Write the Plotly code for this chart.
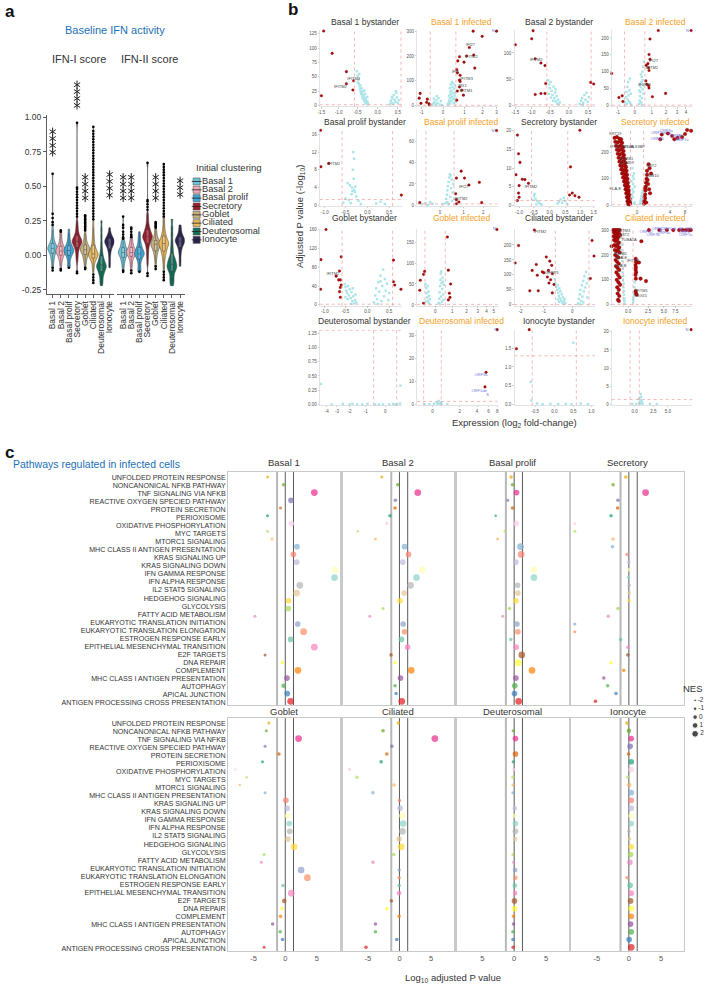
import numpy as np
import plotly.graph_objects as go

W, H = 712, 988
FONT = "Liberation Sans, Arial, Helvetica, sans-serif"
TXT = "#333333"

# ======================= panel a data =======================
cell_types = ["Basal 1", "Basal 2", "Basal prolif", "Secretory", "Goblet", "Ciliated", "Deuterosomal", "Ionocyte"]
cell_colors = ["#6CC4DA", "#F3A8B5", "#3BA6D6", "#9D1C2B", "#C7B27F", "#E8B85C", "#10705A", "#2A2450"]
a_yticks = [-0.25, 0, 0.25, 0.5, 0.75, 1.0]
a_yticktext = ["-0.25", "0.00", "0.25", "0.50", "0.75", "1.00"]

ifn1_body = {
    "Basal 1": [-0.08, -0.06, -0.04, -0.03, -0.02, -0.01, 0.0, 0.01, 0.02, 0.02, 0.03, 0.03, 0.04, 0.04, 0.04, 0.05, 0.05, 0.05, 0.05, 0.06, 0.06, 0.06, 0.07, 0.07, 0.08, 0.08, 0.09, 0.10, 0.11, 0.12, 0.14, 0.16, 0.18, 0.20],
    "Basal 2": [-0.08, -0.06, -0.04, -0.03, -0.02, -0.01, 0.0, 0.0, 0.01, 0.01, 0.02, 0.02, 0.03, 0.03, 0.03, 0.03, 0.04, 0.04, 0.04, 0.05, 0.05, 0.06, 0.06, 0.07, 0.08, 0.09, 0.10, 0.12, 0.14, 0.16],
    "Basal prolif": [-0.07, -0.05, -0.03, -0.02, -0.01, 0.0, 0.01, 0.01, 0.02, 0.02, 0.03, 0.03, 0.03, 0.04, 0.04, 0.04, 0.05, 0.05, 0.06, 0.06, 0.07, 0.08, 0.09, 0.10, 0.12, 0.14, 0.16, 0.19],
    "Secretory": [-0.05, -0.02, 0.0, 0.02, 0.04, 0.05, 0.06, 0.07, 0.08, 0.08, 0.09, 0.09, 0.10, 0.10, 0.10, 0.11, 0.11, 0.12, 0.12, 0.13, 0.14, 0.15, 0.16, 0.18, 0.20, 0.22, 0.25],
    "Goblet": [-0.07, -0.05, -0.03, -0.02, -0.01, 0.0, 0.01, 0.02, 0.02, 0.03, 0.03, 0.04, 0.04, 0.04, 0.05, 0.05, 0.05, 0.06, 0.06, 0.07, 0.08, 0.09, 0.10, 0.12, 0.14, 0.16],
    "Ciliated": [-0.12, -0.09, -0.07, -0.05, -0.04, -0.03, -0.02, -0.02, -0.01, -0.01, 0.0, 0.0, 0.0, 0.01, 0.01, 0.01, 0.02, 0.02, 0.03, 0.03, 0.04, 0.05, 0.06, 0.07, 0.08, 0.10, 0.12, 0.14, 0.17, 0.20, 0.24],
    "Deuterosomal": [-0.22, -0.2, -0.18, -0.16, -0.14, -0.13, -0.12, -0.11, -0.10, -0.09, -0.09, -0.08, -0.08, -0.07, -0.07, -0.06, -0.05, -0.04, -0.03, -0.02, 0.0, 0.02, 0.05, 0.09, 0.14, 0.19, 0.25],
    "Ionocyte": [-0.09, -0.06, -0.03, 0.0, 0.02, 0.04, 0.05, 0.06, 0.07, 0.08, 0.08, 0.09, 0.09, 0.10, 0.10, 0.10, 0.11, 0.11, 0.12, 0.12, 0.13, 0.14, 0.15, 0.17, 0.20],
}
ifn1_out = {
    "Basal 1": [-0.11, -0.09, 0.22, 0.24, 0.27, 0.30, 0.59],
    "Basal 2": [-0.11, -0.10, 0.17, 0.18],
    "Basal prolif": [-0.09],
    "Secretory": [-0.13, -0.12, 0.28, 0.30, 0.32, 0.34, 0.36, 0.38, 0.40, 0.42, 0.44, 0.46, 0.48, 0.49, 0.96],
    "Goblet": [-0.10, -0.09, 0.18, 0.19, 0.20, 0.21, 0.22, 0.23, 0.24, 0.25, 0.26, 0.27, 0.28, 0.29],
    "Ciliated": [-0.20, -0.18, -0.16, -0.14, 0.26, 0.28, 0.30, 0.32, 0.34, 0.36, 0.38, 0.40, 0.42, 0.44, 0.46, 0.48, 0.50, 0.52, 0.54, 0.56, 0.58, 0.60, 0.62, 0.64, 0.66, 0.68, 0.70, 0.72, 0.74, 0.76, 0.78, 0.80, 0.82, 0.84, 0.86, 0.88, 0.90, 0.93],
    "Deuterosomal": [],
    "Ionocyte": [],
}
ifn2_body = {
    "Basal 1": [-0.09, -0.07, -0.05, -0.04, -0.03, -0.02, -0.01, 0.0, 0.0, 0.01, 0.01, 0.02, 0.02, 0.02, 0.03, 0.03, 0.03, 0.04, 0.04, 0.05, 0.06, 0.07, 0.08, 0.09, 0.10, 0.11],
    "Basal 2": [-0.09, -0.07, -0.05, -0.03, -0.02, -0.01, 0.0, 0.0, 0.01, 0.01, 0.02, 0.02, 0.02, 0.03, 0.03, 0.03, 0.04, 0.04, 0.05, 0.06, 0.07, 0.08, 0.09, 0.11, 0.12],
    "Basal prolif": [-0.10, -0.08, -0.06, -0.04, -0.03, -0.02, -0.01, 0.0, 0.0, 0.01, 0.01, 0.01, 0.02, 0.02, 0.03, 0.03, 0.04, 0.05, 0.06, 0.07, 0.08, 0.10, 0.12, 0.14, 0.17],
    "Secretory": [-0.06, -0.02, 0.01, 0.04, 0.06, 0.08, 0.09, 0.10, 0.11, 0.12, 0.12, 0.13, 0.13, 0.14, 0.14, 0.15, 0.15, 0.16, 0.17, 0.18, 0.19, 0.20, 0.22, 0.24, 0.27, 0.30],
    "Goblet": [-0.06, -0.03, -0.01, 0.01, 0.02, 0.03, 0.04, 0.05, 0.06, 0.06, 0.07, 0.07, 0.08, 0.08, 0.08, 0.09, 0.09, 0.10, 0.10, 0.11, 0.12, 0.13, 0.15, 0.17, 0.19],
    "Ciliated": [-0.10, -0.06, -0.03, -0.01, 0.01, 0.02, 0.03, 0.04, 0.05, 0.06, 0.07, 0.07, 0.08, 0.08, 0.09, 0.09, 0.10, 0.10, 0.11, 0.12, 0.13, 0.14, 0.15, 0.17, 0.19, 0.22, 0.26, 0.30],
    "Deuterosomal": [-0.22, -0.2, -0.18, -0.16, -0.14, -0.12, -0.11, -0.10, -0.09, -0.08, -0.08, -0.07, -0.06, -0.05, -0.04, -0.03, -0.02, 0.0, 0.03, 0.06, 0.10, 0.15, 0.20, 0.26],
    "Ionocyte": [-0.08, -0.05, -0.02, 0.01, 0.03, 0.05, 0.06, 0.07, 0.08, 0.09, 0.09, 0.10, 0.10, 0.11, 0.11, 0.11, 0.12, 0.12, 0.13, 0.14, 0.15, 0.16, 0.18, 0.20, 0.22],
}
ifn2_out = {
    "Basal 1": [-0.12, -0.11, 0.12, 0.13, 0.15, 0.17, 0.20, 0.22, 0.28],
    "Basal 2": [-0.13, -0.11, 0.13, 0.14, 0.15, 0.17, 0.19, 0.20],
    "Basal prolif": [-0.12],
    "Secretory": [-0.15, -0.13, 0.33, 0.35, 0.37, 0.39, 0.40, 0.67],
    "Goblet": [-0.10, -0.08, 0.20, 0.21, 0.22, 0.23, 0.24],
    "Ciliated": [-0.18, -0.16, -0.14, -0.12, 0.28, 0.30, 0.32, 0.34, 0.36, 0.38, 0.40, 0.42, 0.44, 0.46, 0.48, 0.50, 0.52, 0.54, 0.56, 0.58, 0.60, 0.62, 0.64, 0.66],
    "Deuterosomal": [],
    "Ionocyte": [],
}
# significance marks: (number of stars, centre value on the score axis)
ifn1_stars = {"Basal 1": (4, 0.82), "Secretory": (4, 1.16), "Goblet": (4, 0.49), "Ionocyte": (4, 0.51)}
ifn2_stars = {"Basal 1": (4, 0.49), "Basal 2": (4, 0.49), "Goblet": (4, 0.49), "Ionocyte": (3, 0.49)}

# ======================= panel b data =======================
volcano_titles = ["Basal 1 bystander", "Basal 1 infected", "Basal 2 bystander", "Basal 2 infected",
                  "Basal prolif bystander", "Basal prolif infected", "Secretory bystander", "Secretory infected",
                  "Goblet bystander", "Goblet infected", "Ciliated bystander", "Ciliated infected",
                  "Deuterosomal bystander", "Deuterosomal infected", "Ionocyte bystander", "Ionocyte infected"]

cyan_pts = {
    "Basal 1 bystander": [(-0.52, 60), (-0.50, 52), (-0.48, 45), (-0.47, 38), (-0.45, 33), (-0.44, 28), (-0.42, 24), (-0.41, 20), (-0.40, 30), (-0.38, 16), (-0.37, 12), (-0.36, 25), (-0.35, 18), (-0.34, 9), (-0.33, 14), (-0.32, 6), (-0.31, 20), (-0.30, 11), (-0.29, 4), (-0.28, 8), (-0.27, 3), (-0.26, 15), (-0.25, 6), (-0.50, 40), (-0.46, 55), (-0.43, 35), (-0.39, 22), (-0.33, 26), (-0.24, 2), (0.30, 2), (0.32, 8), (0.34, 5), (0.36, 12), (0.38, 3), (0.40, 18), (0.42, 10), (0.44, 6), (0.46, 22), (0.48, 14), (0.50, 4), (0.52, 9), (0.35, 15), (0.45, 25)],
    "Basal 1 infected": [(0.2, 5), (0.25, 12), (0.28, 20), (0.3, 30), (0.32, 8), (0.35, 45), (0.36, 18), (0.38, 60), (0.4, 35), (0.42, 75), (0.44, 25), (0.45, 90), (0.47, 50), (0.48, 10), (0.5, 68), (0.52, 40), (0.54, 82), (0.55, 15), (0.56, 55), (0.3, 70), (0.34, 85), (0.4, 95), (0.27, 40), (0.33, 55), (0.5, 28), (-0.5, 3), (-0.45, 8), (-0.4, 15), (-0.35, 5), (-0.3, 22), (-0.25, 10), (-0.2, 30), (-0.15, 4), (-0.1, 18), (-0.05, 2), (-0.42, 28), (-0.28, 38)],
    "Basal 2 bystander": [(-0.55, 48), (-0.52, 40), (-0.5, 33), (-0.48, 45), (-0.45, 28), (-0.43, 20), (-0.4, 36), (-0.38, 14), (-0.36, 25), (-0.34, 8), (-0.32, 18), (-0.3, 4), (-0.28, 11), (-0.26, 2), (-0.24, 6), (-0.47, 15), (-0.41, 9), (-0.35, 31), (-0.53, 22), (0.28, 3), (0.31, 9), (0.34, 14), (0.37, 5), (0.40, 20), (0.43, 11), (0.46, 24), (0.49, 7), (0.52, 16), (0.36, 1)],
    "Basal 2 infected": [(0.25, 5), (0.28, 15), (0.3, 28), (0.32, 40), (0.34, 55), (0.36, 10), (0.38, 70), (0.4, 85), (0.42, 22), (0.44, 100), (0.46, 48), (0.48, 115), (0.5, 35), (0.52, 130), (0.3, 62), (0.35, 92), (0.45, 75), (0.27, 45), (0.4, 3), (0.5, 60), (-0.55, 10), (-0.5, 25), (-0.47, 40), (-0.45, 5), (-0.42, 55), (-0.4, 18), (-0.37, 70), (-0.35, 30), (-0.32, 12), (-0.3, 45), (-0.28, 80), (-0.25, 8), (-0.22, 35), (-0.2, 2)],
    "Basal prolif bystander": [(-0.32, 12), (-0.3, 10.5), (-0.33, 8), (-0.31, 6), (-0.45, 5), (-0.4, 4.5), (-0.35, 4), (-0.3, 3.5), (-0.28, 3), (-0.36, 2.5), (-0.25, 2), (-0.5, 1.5), (-0.2, 1), (-0.42, 1.2), (-0.38, 0.5), (-0.15, 0.3), (0.2, 0.4), (0.3, 0.8), (0.4, 0.3), (-0.55, 0.6), (-0.27, 4.2), (-0.34, 3.2)],
    "Basal prolif infected": [(0.22, 2), (0.25, 6), (0.28, 10), (0.3, 14), (0.32, 18), (0.35, 22), (0.38, 26), (0.4, 29), (0.42, 8), (0.45, 16), (0.48, 24), (0.5, 4), (0.52, 12), (0.55, 20), (0.3, 3), (0.36, 1), (0.44, 28), (0.6, 6), (-0.75, 1), (-0.6, 2), (-0.5, 0.5), (-0.4, 3), (-0.3, 1.5), (0.1, 0.8)],
    "Secretory bystander": [(-0.5, 2.5), (-0.45, 1.8), (-0.4, 1.2), (-0.35, 0.8), (-0.3, 0.5), (-0.42, 0.3), (-0.48, 3.1), (-0.55, 1.5), (0.25, 0.5), (0.3, 1), (0.35, 1.6), (0.4, 0.7), (0.45, 2), (0.5, 1.2), (0.55, 0.4), (-0.25, 0.2)],
    "Secretory infected": [(-0.5, 20), (-0.45, 40), (-0.4, 60), (-0.35, 80), (-0.3, 100), (-0.28, 120), (-0.42, 140), (-0.38, 30), (-0.32, 50), (-0.25, 10), (-0.2, 70), (-0.48, 90), (-0.36, 110), (-0.22, 5), (0.25, 5), (0.3, 15), (0.35, 25), (0.4, 35), (0.45, 45), (0.5, 55), (0.32, 8), (0.42, 20)],
    "Goblet bystander": [(-0.52, 44), (-0.5, 38), (-0.48, 30), (-0.46, 25), (-0.44, 40), (-0.42, 20), (-0.4, 33), (-0.38, 14), (-0.36, 27), (-0.34, 8), (-0.32, 18), (-0.3, 3), (-0.28, 10), (-0.27, 22), (-0.25, 5), (-0.45, 12), (-0.37, 2), (-0.5, 16), (-0.33, 35), (0.15, 5), (0.18, 20), (0.2, 35), (0.22, 12), (0.25, 48), (0.27, 28), (0.3, 62), (0.32, 8), (0.34, 40), (0.36, 75), (0.38, 18), (0.4, 55), (0.42, 30), (0.45, 45), (0.48, 10), (0.5, 25), (0.3, 50), (0.24, 2)],
    "Goblet infected": [(-0.55, 50), (-0.5, 40), (-0.48, 28), (-0.45, 18), (-0.43, 45), (-0.4, 10), (-0.38, 32), (-0.36, 5), (-0.34, 22), (-0.32, 2), (-0.3, 14), (-0.52, 8), (0.2, 5), (0.23, 15), (0.25, 30), (0.28, 45), (0.3, 60), (0.32, 75), (0.34, 20), (0.36, 52), (0.38, 8), (0.4, 38), (0.42, 65), (0.45, 25), (0.48, 12), (0.5, 48), (0.27, 2), (0.35, 80), (0.44, 55)],
    "Ciliated bystander": [(-0.6, 85), (-0.58, 72), (-0.55, 60), (-0.52, 50), (-0.5, 65), (-0.48, 40), (-0.46, 30), (-0.44, 55), (-0.42, 22), (-0.4, 45), (-0.38, 15), (-0.36, 35), (-0.34, 8), (-0.32, 25), (-0.3, 3), (-0.28, 12), (-0.26, 20), (-0.24, 5), (-0.5, 18), (-0.45, 10), (0.2, 5), (0.23, 20), (0.26, 35), (0.28, 50), (0.3, 12), (0.33, 65), (0.35, 28), (0.38, 80), (0.4, 45), (0.42, 95), (0.45, 58), (0.48, 110), (0.5, 72), (0.52, 25), (0.55, 88), (0.25, 2), (0.38, 8)],
    "Ciliated infected": [(-0.85, 250), (-0.8, 220), (-0.75, 190), (-0.7, 160), (-0.65, 130), (-0.6, 100), (-0.55, 70), (-0.5, 40), (-0.45, 15), (-0.82, 270), (-0.78, 240), (-0.72, 205), (-0.68, 175), (-0.62, 145), (-0.58, 115), (-0.52, 85), (-0.48, 55), (-0.42, 25), (-0.4, 5), (0.6, 10), (0.65, 30), (0.7, 50), (0.75, 70), (0.8, 90), (0.62, 20), (0.72, 40)],
    "Deuterosomal bystander": [(-4.7, 0.36), (0.78, 0.33), (-2.0, 0.0), (-1.8, 0.01), (-1.5, 0.0), (-1.2, 0.0), (-0.9, 0.01), (-0.5, 0.0), (-0.3, 0.0), (0.2, 0.0), (0.4, 0.01), (0.6, 0.0), (0.75, 0.02), (-3.5, 0.0), (-2.5, 0.01), (-0.1, 0.0), (0.5, 0.0)],
    "Deuterosomal infected": [(0.3, 0.7), (0.4, 1.5), (0.5, 0.4), (0.35, 0.2), (0.55, 1.0), (-0.2, 0.1), (0.1, 0.3), (0.6, 0.1), (-0.5, 0.05), (1.0, 0.1)],
    "Ionocyte bystander": [(0.5, 1.65), (-0.62, 0.6), (-0.45, 0.02), (-0.3, 0.0), (-0.1, 0.01), (0.1, 0.0), (0.3, 0.01), (0.45, 0.0), (0.7, 0.02), (0.9, 0.0), (-0.6, 0.1)],
    "Ionocyte infected": [(0.6, 0.5), (0.7, 1.2), (0.8, 2.0), (0.75, 2.8), (0.65, 0.2), (0.9, 0.8), (1.0, 0.1), (0.5, 1.5), (0.85, 0.4), (-0.3, 0.1), (0.2, 0.05), (2.0, 0.1), (3.0, 0.05)],
}

red_pts = {
    "Basal 1 bystander": [(-1.43, 130), (-1.18, 91), (-0.79, 59), (-0.79, 38), (-0.6, 43), (-0.62, 27), (-1.5, 17)],
    "Basal 1 infected": [(1.45, 300), (1.98, 279), (1.24, 234), (0.67, 180), (0.75, 197), (0.97, 175), (1.48, 204), (1.1, 200), (1.54, 151), (0.62, 145), (0.65, 132), (0.78, 122), (0.75, 103), (0.78, 97), (0.75, 75), (0.86, 62), (0.65, 59), (0.94, 42), (0.62, 22), (-1.07, 49), (-1.12, 30), (-0.72, 26), (-0.64, 7), (-0.75, 13), (-1.03, 9), (-0.62, 3), (3.0, 300)],
    "Basal 2 bystander": [(-1.5, 115.6), (-0.96, 142.5), (-1.0, 127), (-0.9, 89), (-0.74, 81), (-0.63, 76), (-0.9, 21), (-0.74, 23), (-0.63, 23), (-0.61, 42), (0.57, 44), (0.65, 41)],
    "Basal 2 infected": [(-1.39, 95), (-0.92, 24), (-0.72, 29), (-0.68, 12), (1.43, 222), (0.89, 197), (0.83, 151), (0.89, 137), (0.76, 124), (0.66, 119), (0.8, 112), (0.83, 104), (0.64, 73), (0.7, 63), (0.8, 59), (0.83, 52), (1.04, 26), (1.97, 36), (4.7, 222)],
    "Basal prolif bystander": [(-1.11, 16.9), (-0.9, 9.45), (-1.1, 8.7), (0.79, 2.3)],
    "Basal prolif infected": [(0.89, 32), (0.68, 25.5), (1.04, 25.5), (1.25, 19), (1.78, 21.5), (0.65, 10.8), (0.68, 5.2), (0.79, 3.1), (1.91, 2.5), (-0.85, 2.5), (0.68, 1.5), (2.85, 70)],
    "Secretory bystander": [(-1.06, 18.8), (0.99, 20.1), (-1.02, 13.8), (-0.97, 11.5), (-1.11, 8.2), (-0.89, 7), (-0.8, 6.9), (-1.0, 5.3), (-0.68, 5.9), (0.67, 10.3), (0.64, 2.8), (0.82, 2.6), (0.96, 2.2), (0.73, 3.3), (-1.02, 3.3), (-1.0, 2.2), (-1.06, 1.3)],
    "Secretory infected": [(-2.3, 255), (-2.0, 258), (-1.7, 252), (-1.5, 250), (-2.2, 240), (-1.9, 238), (-1.6, 242), (-1.4, 236), (-2.1, 225), (-1.8, 222), (-1.55, 226), (-1.3, 220), (-2.0, 210), (-1.75, 207), (-1.5, 212), (-1.25, 205), (-1.9, 195), (-1.65, 192), (-1.4, 197), (-1.2, 190), (-1.8, 180), (-1.55, 177), (-1.3, 182), (-1.12, 175), (-1.7, 165), (-1.45, 162), (-1.25, 167), (-1.05, 160), (-1.6, 150), (-1.4, 147), (-1.18, 152), (-1.0, 145), (-1.5, 135), (-1.3, 132), (-1.1, 137), (-0.95, 130), (-1.4, 120), (-1.22, 117), (-1.05, 122), (-0.9, 115), (-1.3, 105), (-1.15, 102), (-1.0, 107), (-0.86, 100), (-1.2, 90), (-1.08, 87), (-0.95, 92), (-0.82, 85), (-1.12, 75), (-1.0, 72), (-0.9, 77), (-0.78, 70), (-1.05, 60), (-0.94, 57), (-0.85, 62), (-0.74, 55), (-0.98, 45), (-0.88, 42), (-0.8, 47), (-0.7, 40), (-0.92, 30), (-0.82, 27), (-0.75, 32), (-0.66, 25), (-0.86, 15), (-0.77, 12), (-0.7, 17), (-0.62, 10), (-0.8, 4), (-0.7, 2), (-0.62, 5), (0.62, 5), (0.65, 15), (0.7, 25), (0.72, 40), (0.75, 55), (0.78, 70), (0.8, 85), (0.85, 100), (0.9, 115), (0.95, 95), (1.0, 80), (1.1, 60), (1.2, 45), (0.68, 30), (0.82, 10), (0.9, 130), (1.05, 155), (1.15, 140), (1.3, 120), (0.7, 65), (2.6, 268), (3.6, 272), (4.4, 262), (5.7, 255), (7.0, 258), (8.0, 270), (4.9, 250), (2.4, 250), (8.8, 285), (10.5, 282)],
    "Goblet bystander": [(-0.97, 160), (-1.1, 96), (-1.11, 33), (-0.6, 102), (-0.64, 72), (-0.72, 61), (-0.62, 53), (-0.66, 53), (-0.6, 42), (-0.62, 37), (-0.62, 16), (-0.64, 28), (0.6, 95), (0.6, 49), (0.63, 42), (0.78, 33)],
    "Goblet infected": [(-0.86, 59), (-0.66, 73), (-0.6, 80), (-0.89, 35), (-0.66, 4), (0.7, 162), (0.76, 83), (0.9, 50), (0.82, 28), (0.86, 18), (0.76, 12), (5.5, 180)],
    "Ciliated bystander": [(-1.38, 250), (-2.09, 198), (-2.26, 140), (-1.3, 135), (-1.47, 115), (-1.26, 99), (-1.57, 47), (-1.22, 47), (-0.91, 160), (-0.78, 146), (-0.71, 132), (-0.83, 115), (-1.0, 107), (-0.69, 104), (-0.87, 93), (-0.75, 84), (-0.81, 73), (-0.63, 68), (-0.69, 40), (-1.06, 110), (0.69, 215), (0.76, 163), (0.63, 88)],
    "Ciliated infected": [(-1.8, 300), (-1.6, 300), (-1.4, 300), (-1.2, 300), (-1.0, 300), (-1.7, 290), (-1.5, 285), (-1.3, 292), (-1.1, 288), (-1.75, 275), (-1.55, 270), (-1.35, 278), (-1.15, 272), (-0.95, 280), (-1.7, 260), (-1.5, 255), (-1.3, 262), (-1.1, 250), (-1.65, 240), (-1.45, 235), (-1.25, 242), (-1.05, 230), (-1.6, 220), (-1.4, 215), (-1.2, 222), (-1.0, 210), (-1.55, 200), (-1.35, 195), (-1.15, 190), (-1.5, 180), (-1.3, 172), (-1.1, 165), (-1.45, 155), (-1.25, 148), (-1.05, 140), (-1.4, 130), (-1.2, 120), (-1.0, 110), (-1.35, 100), (-1.15, 90), (-0.95, 80), (-1.3, 70), (-1.1, 60), (-1.25, 45), (-1.05, 35), (-1.2, 20), (-2.0, 235), (-1.1, 15), (0.9, 185), (0.95, 175), (1.0, 170), (0.88, 160), (0.92, 150), (0.9, 140), (0.95, 130), (0.88, 120), (1.3, 170), (1.6, 255), (0.92, 105), (0.9, 55), (0.95, 45), (1.0, 40), (2.2, 95), (1.5, 105), (2.6, 300), (4.2, 300), (5.6, 300), (7.0, 300), (8.5, 300), (9.5, 300), (10.5, 300), (11.5, 300), (12.3, 300)],
    "Deuterosomal bystander": [],
    "Deuterosomal infected": [(5.5, 13.9), (5.3, 7.6), (8.0, 32.4)],
    "Ionocyte bystander": [(-0.66, 2.0), (-1.02, 1.49)],
    "Ionocyte infected": [(11.5, 20.6)],
}

gene_labels = {
    "Basal 1 bystander": [("IFITM3", -0.6, 46), ("IFITM2", -0.95, 33)],
    "Basal 1 infected": [("IFI27", 1.3, 243), ("IFITM2", 1.35, 195), ("IFI6", 0.55, 134), ("IFITM3", 1.1, 109), ("MX1", 0.9, 79), ("IFITM1", 1.08, 57)],
    "Basal 2 bystander": [("IFITM2", -0.87, 86)],
    "Basal 2 infected": [("IFI27", 1.1, 133), ("IFITM2", 1.0, 112), ("IFITM3", 0.56, 60)],
    "Basal prolif bystander": [("IFITM2", -0.78, 9.3)],
    "Basal prolif infected": [("IFI27", 1.0, 17.5), ("IFITM2", 0.89, 6)],
    "Secretory bystander": [("IFITM2", -0.6, 4.9)],
    "Secretory infected": [("KRT19", -2.2, 268), ("IFI27", -2.3, 222), ("RPL7A", -0.85, 222), ("LGALS3BP", -0.2, 222), ("PSMB1", -0.95, 175), ("SAMD9", -0.9, 158), ("BST2", 1.35, 150), ("CMB10", 1.4, 112), ("HLA-E", -2.2, 60)],
    "Goblet bystander": [("IFITM2", -0.8, 66)],
    "Goblet infected": [],
    "Ciliated bystander": [("IFITM2", -1.15, 242), ("IGFBP3", -0.72, 108)],
    "Ciliated infected": [("IFITM3", -0.5, 295), ("BST2", -0.45, 282), ("TUBA1A", 0.1, 262), ("HSPB1", -0.9, 205), ("HLA-E", -0.8, 188), ("IFITM1", 0.6, 175), ("HLA-B", -0.9, 155), ("IFITM1", 1.6, 55), ("ISG15", 1.6, 35)],
    "Deuterosomal bystander": [],
    "Deuterosomal infected": [],
    "Ionocyte bystander": [],
    "Ionocyte infected": [],
}

viral_labels = {
    "Basal 1 infected": [("N", 2.75, 300)],
    "Basal 2 infected": [("N", 4.2, 222)],
    "Basal prolif infected": [("N", 2.6, 70)],
    "Secretory infected": [("ORF1ab", 2.2, 275), ("ORF3a", 3.3, 280), ("E", 4.0, 268), ("ORF6", 5.2, 262), ("M", 6.4, 262), ("S", 5.8, 250), ("ORF7a", 7.0, 248), ("ORF10", 2.0, 252), ("ORF8", 8.0, 290), ("N", 9.5, 290)],
    "Goblet infected": [("N", 5.1, 180)],
    "Ciliated infected": [("ORF10", 2.2, 292), ("ORF6", 3.8, 304), ("ORF1ab", 6.0, 304), ("ORF3a", 5.0, 288), ("E", 4.5, 297), ("ORF7b", 3.2, 282), ("M", 9.0, 304), ("ORF8", 10.0, 292), ("ORF7a", 10.5, 282), ("N", 11.2, 304), ("S", 12.2, 304)],
    "Deuterosomal infected": [("N", 7.6, 32.4), ("ORF3a", 4.6, 12.6), ("ORF1ab", 4.3, 6.0), ("S", 5.8, 4.2)],
    "Ionocyte infected": [("N", 10.0, 20.6)],
}

# ======================= panel c data =======================
pathways = ["UNFOLDED PROTEIN RESPONSE", "NONCANONICAL NFKB PATHWAY", "TNF SIGNALING VIA NFKB", "REACTIVE OXYGEN SPECIED PATHWAY",
            "PROTEIN SECRETION", "PERIOXISOME", "OXIDATIVE PHOSPHORYLATION", "MYC TARGETS", "MTORC1 SIGNALING",
            "MHC CLASS II ANTIGEN PRESENTATION", "KRAS SIGNALING UP", "KRAS SIGNALING DOWN", "IFN GAMMA RESPONSE",
            "IFN ALPHA RESPONSE", "IL2 STAT5 SIGNALING", "HEDGEHOG SIGNALING", "GLYCOLYSIS", "FATTY ACID METABOLISM",
            "EUKARYOTIC TRANSLATION INITIATION", "EUKARYOTIC TRANSLATION ELONGATION", "ESTROGEN RESPONSE EARLY",
            "EPITHELIAL MESENCHYMAL TRANSITION", "E2F TARGETS", "DNA REPAIR", "COMPLEMENT", "MHC CLASS I ANTIGEN PRESENTATION",
            "AUTOPHAGY", "APICAL JUNCTION", "ANTIGEN PROCESSING CROSS PRESENTATION"]
dot_colors = ["#E6AB02", "#66A61E", "#E7298A", "#7570B3", "#D95F02", "#1B9E77", "#FCCDE5", "#B3DE69", "#FDB462", "#80B1D3",
              "#FB8072", "#BEBADA", "#FFFFB3", "#8DD3C7", "#B3B3B3", "#E5C494", "#FFD92F", "#A6D854", "#E78AC3", "#8DA0CB",
              "#FC8D62", "#66C2A5", "#F781BF", "#A65628", "#FFFF33", "#FF7F00", "#984EA3", "#4DAF4A", "#377EB8", "#E41A1C"]
facets = ["Basal 1", "Basal 2", "Basal prolif", "Secretory", "Goblet", "Ciliated", "Deuterosomal", "Ionocyte"]
gsea_x = {
    "Basal 1": [-2.8, -0.27, 4.6, 0.9, -0.75, -2.8, 0.96, -2.8, -2.1, 1.86, 1.28, 1.8, 7.9, 7.8, 2.3, 1.8, 0.53, 0.48, -4.8, 1.97, 2.9, 0.85, 4.6, -3.2, -0.43, 2.0, 0.27, -0.27, 0.32, 0.85],
    "Basal 2": [-2.8, -0.27, 2.9, -0.64, -0.7, -1.5, -2.0, -6.6, -3.8, 0.8, 1.44, 0.53, 3.6, 2.7, 1.76, 0.74, 0.1, -2.6, -4.7, 0.58, 0.8, 0.32, 1.28, -1.33, -0.7, 1.86, 0.16, -0.7, -0.53, 0.37],
    "Basal prolif": [-0.48, -0.27, 0.37, -1.0, -0.27, -2.9, 0.32, -1.44, -2.6, 1.0, 1.1, 0.27, 3.1, 3.1, 0.53, 0.58, 0.27, -0.74, -1.8, 0.43, 0.58, -0.53, 0.32, 1.2, 0.64, 2.8, 0.27, 0.1, 0.05, 0.7],
    "Secretory": [-0.48, -2.45, 2.6, -1.7, -1.75, -2.77, -8.4, -8.4, -2.45, -2.55, -0.27, 0.0, -0.05, -0.05, 0.05, 0.05, 0.05, -1.7, -3.2, -8.4, -8.4, -1.28, -0.16, -0.16, -2.8, -0.8, -3.9, -3.3, -2.0, -5.2],
    "Goblet": [-2.6, -3.0, 2.1, -3.2, -1.0, -3.6, -7.9, -6.1, -7.2, -3.2, 0.1, 0.3, 0.37, 0.64, 0.7, 0.43, 1.4, -3.35, -3.8, 2.5, 3.5, -0.37, 0.96, -0.16, -0.53, -0.74, -2.0, -0.8, -0.43, -3.35],
    "Ciliated": [-0.16, -2.6, 5.6, -1.2, -2.0, -2.9, -7.9, -6.75, -0.85, -4.2, 0.0, 0.1, 0.48, 0.58, 0.48, -0.05, 0.27, -0.9, -4.2, -0.05, -0.05, -0.05, -0.05, -1.28, -2.0, -0.05, -3.8, -3.8, -0.43, -5.3],
    "Deuterosomal": [None, -0.16, 0.2, None, 0.2, -0.16, -0.05, -0.2, -0.2, -0.2, None, 0.1, 0.05, 0.2, 0.2, 0.16, None, -0.2, -0.1, 0.16, 0.2, 0.1, 0.16, 0.05, 0.05, -0.1, -0.1, -0.2, -0.2, -0.16],
    "Ionocyte": [-0.3, 0.0, 0.37, 0.2, -0.05, 0.37, 0.37, -0.16, 0.05, 0.37, 0.37, 0.37, 0.37, 0.37, 0.0, 0.1, 0.37, 0.27, 0.16, None, -0.3, 0.2, 0.37, 0.27, 0.37, 0.37, 0.27, 0.37, 0.05, 0.37],
}
gsea_nes = {
    "Basal 1": [-1.5, -1, 2, 1, -1.5, -1.5, 1, -1.5, -1.5, 1, 1, 1, 2, 2, 2, 2, 1, 1, -1.5, 1, 2, 1, 2, -1.5, -1, 2, 1, 0, 1, 2],
    "Basal 2": [-1.5, -1, 2, -1, -1, -1, -1, -2, -1.5, 1, 1, 1, 2, 2, 2, 1, 1, -1.5, -1.5, 1, 1, 1, 1, -1, -1, 2, 1, -1, -1, 2],
    "Basal prolif": [-1, -1, 1, -1.5, -1, -2, 1, -1.5, -1.5, 2, 2, 1, 2, 2, 1, 1, 1, -1, -1.5, 1, 1, -1, 1, 2, 2, 2, 1, 1, 1, 2],
    "Secretory": [-1, -1, 2, -1, -1, -1, -1.5, -1.5, -1, -1, -1, -1, -1, -1, -1, -1, -1, -1, -1, -1.5, -1.5, -1, -1, -1, -1, -1, -1, -1, -1, -1],
    "Goblet": [-1.5, -1.5, 2, -1.5, -1, -1.5, -2, -2, -2, -1.5, 1, 1, 1, 1, 1, 1, 2, -1.5, -1.5, 2, 2, -1, 2, 0, -1, -1, -1, -1, -1, -1.5],
    "Ciliated": [-1, -1, 2, -1, -1, -1, -1, -1, -1, -1, -1, 1, 2, 2, 2, 1, 2, -1, -1, -1, -1, -1, 0, -1, -1, -1, -1, -1, -1, -1],
    "Deuterosomal": [None, -1.5, 1, None, 1, -1.5, -1, -1, -1.5, -1.5, None, 0, 0, 1, 1, 0, None, -1.5, -1.5, 0, 0, 0, 0, 1, 1, -1, -1, -1, -1, -1],
    "Ionocyte": [-1, 0, 1, 1, -1, 1, 1, -1, 0, 1, 1, 1, 1, 1, -1, -1, 1, 1, 1, None, -1, 1, 1, 1, 1, 1, 1, 1, 1, 2],
}
nes_legend = [-2, -1, 0, 1, 2]

# ======================= layout helpers =======================
def fx(p):
    return p / W


def fy(p):
    return 1 - p / H


def ptr(xs, s=1.0):
    return list(np.arcsinh(np.asarray(xs, dtype=float) / (2.0 * s)))


fig = go.Figure()
L = dict(width=W, height=H, margin=dict(l=0, r=0, t=0, b=0), paper_bgcolor="white",
         plot_bgcolor="rgba(0,0,0,0)", showlegend=False, hovermode=False,
         font=dict(family=FONT, color=TXT), violinmode="overlay")
shapes, ann = [], []


def text_ann(x, y, text, size, color=TXT, xanchor="center", yanchor="middle", **kw):
    ann.append(dict(x=fx(x), y=fy(y), xref="paper", yref="paper", text=text, showarrow=False,
                    font=dict(size=size, color=color, family=FONT), xanchor=xanchor, yanchor=yanchor, **kw))


# ======================= panel a =======================
A_TOP, A_BOT, A_STAR_TOP = 113, 293, 60
A_YR = [-0.279, 1.019]
A_UNIT = (A_YR[1] - A_YR[0]) / (A_BOT - A_TOP)        # score units per pixel
STAR_STEP = 6.9 * A_UNIT

axis_common = dict(showgrid=False, zeroline=False)
L["yaxis"] = dict(domain=[fy(A_BOT), fy(A_TOP)], range=A_YR, anchor="x", tickvals=a_yticks, ticktext=a_yticktext,
                  showline=True, linecolor="#333", linewidth=0.8, ticks="outside", ticklen=3, tickwidth=0.8,
                  tickcolor="#333", tickfont=dict(size=8.5, color=TXT), **axis_common)
# same score scale, taller invisible axis so the significance stars above 1.0 stay visible
L["yaxis29"] = dict(domain=[fy(A_BOT), fy(A_STAR_TOP)], range=[A_YR[0], A_YR[0] + (A_BOT - A_STAR_TOP) * A_UNIT],
                    visible=False, anchor="x", fixedrange=True, **axis_common)
for key, (x0, x1) in (("xaxis", (44, 112)), ("xaxis2", (115, 183))):
    L[key] = dict(domain=[fx(x0), fx(x1)], anchor="y", type="category", categoryorder="array",
                  categoryarray=cell_types, tickmode="array", tickvals=cell_types, ticktext=cell_types,
                  range=[-0.73, 7.57], tickangle=-90, showline=True, linecolor="#333",
                  linewidth=0.8, ticks="outside", ticklen=3, tickwidth=0.8, tickcolor="#333",
                  tickfont=dict(size=8.5, color=TXT), **axis_common)

for xa, body, outl, stars in (("x", ifn1_body, ifn1_out, ifn1_stars), ("x2", ifn2_body, ifn2_out, ifn2_stars)):
    for ct, col in zip(cell_types, cell_colors):
        out = outl[ct]
        vals = body[ct] + ([min(out), max(out)] if out else [])
        fig.add_trace(go.Violin(x=[ct] * len(vals), y=vals, xaxis=xa, yaxis="y", fillcolor=col,
                                line=dict(color="#3a3a3a", width=0.5), width=1.2, scalemode="width",
                                spanmode="hard", bandwidth=0.02, points=False,
                                box=dict(visible=True, width=0.28, fillcolor="rgba(255,255,255,0.25)",
                                         line=dict(color="#333", width=0.45)),
                                meanline=dict(visible=False), opacity=1, showlegend=False, hoverinfo="skip"))
        if out:
            fig.add_trace(go.Scatter(x=[ct] * len(out), y=out, xaxis=xa, yaxis="y", mode="markers",
                                     marker=dict(color="black", size=2.6), cliponaxis=False, hoverinfo="skip"))
    sx, sy = [], []
    for ct, (m, v) in stars.items():
        for i in range(m):
            sx.append(ct)
            sy.append(v + ((m - 1) / 2.0 - i) * STAR_STEP)
    for sym in ("y-up-open", "y-down-open"):
        fig.add_trace(go.Scatter(x=sx, y=sy, xaxis=xa, yaxis="y29", mode="markers", cliponaxis=False,
                                 marker=dict(symbol=sym, size=5.2, color="#222",
                                             line=dict(color="#222", width=1.0)), hoverinfo="skip"))

# legend for panel a (hidden axes)
L["xaxis27"] = dict(domain=[fx(192), fx(262)], range=[0, 70], visible=False, anchor="y27", fixedrange=True)
L["yaxis27"] = dict(domain=[fy(243), fy(176)], range=[7.5, -0.5], visible=False, anchor="x27", fixedrange=True)
fig.add_trace(go.Scatter(x=[3] * len(cell_types), y=list(range(len(cell_types))), xaxis="x27", yaxis="y27",
                         mode="markers+text", text=cell_types, textposition="middle right",
                         textfont=dict(size=9.3, color=TXT, family=FONT),
                         marker=dict(symbol="square", size=7, color=cell_colors, line=dict(color="#555", width=0.6)),
                         cliponaxis=False))
fig.add_trace(go.Scatter(x=[3] * len(cell_types), y=list(range(len(cell_types))), xaxis="x27", yaxis="y27",
                         mode="markers", marker=dict(symbol="line-ew", size=7, line=dict(color="#222", width=0.8)),
                         cliponaxis=False))
text_ann(192, 166, "Initial clustering", 9.5, xanchor="left")
text_ann(0, 10, "<b>a</b>", 17, color="#111", xanchor="left")
text_ann(113, 28, "Baseline IFN activity", 11, color="#2270B5")
text_ann(77, 57, "IFN-I score", 11)
text_ann(148, 57, "IFN-II score", 11)

# ======================= panel b =======================
VCOL = [(319, 402), (417, 498), (515, 596), (613, 694)]
VROW = [(28, 105), (128, 205), (228, 305), (329, 405)]
VTITLE_Y = [20, 120, 217, 320]
vol_x_range = [[-1.55, 0.61], [-1.23, 3.08], [-1.53, 0.68], [-1.39, 4.85], [-1.13, 0.81], [-0.97, 2.92],
               [-1.17, 1.55], [-2.7, 11], [-1.13, 0.81], [-1.06, 5.6], [-2.3, 0.79], [-2.0, 12.8],
               [-4.85, 0.87], [-1.04, 8.1], [-1.08, 1.1], [-3.17, 11.9]]
vol_sigma = [1, 1, 1, 1, 1, 1, 1, 1, 1, 1, 1, 2, 1, 1, 1, 2]
vol_y_range = [[-2, 132], [-4, 305], [-2, 144], [-3, 224], [-0.2, 17.1], [-0.8, 71], [-0.2, 20.3], [-4, 287],
               [-2, 161], [-2, 181], [-3, 253], [-4, 304], [-0.015, 1.31], [-0.4, 32.4], [-0.03, 2.0], [-0.3, 20.6]]
vol_x_ticks = [["-1.5", "-1.0", "-0.5", "0.0", "0.5"], ["-1", "0", "1", "2", "3"], ["-1.5", "-1.0", "-0.5", "0.0", "0.5"],
               ["-1", "0", "1", "2", "3", "4"], ["-1.0", "-0.5", "0.0", "0.5"], ["0", "1", "2"],
               ["-1.0", "-0.5", "0.0", "0.5", "1.0", "1.5"], ["0", "4", "8"], ["-1.0", "-0.5", "0.0", "0.5"],
               ["0", "1", "2", "3", "4", "5"], ["-2", "-1", "0"], ["0.0", "2.5", "5.0", "7.5"],
               ["-4", "-3", "-2", "-1", "0"], ["0", "2", "4", "6", "8"], ["-0.5", "0.0", "0.5", "1.0"], ["0.0", "2.5", "5.0"]]
vol_y_ticks = [["0", "25", "50", "75", "100", "125"], ["0", "100", "200", "300"], ["0", "50", "100"],
               ["0", "50", "100", "150", "200"], ["0", "4", "8", "12", "16"], ["0", "20", "40", "60"],
               ["0", "5", "10", "15", "20"], ["0", "100", "200"], ["0", "40", "80", "120", "160"],
               ["0", "50", "100", "150"], ["0", "50", "100", "150", "200"], ["0", "100", "200", "300"],
               ["0.00", "0.25", "0.50", "0.75", "1.00", "1.25"], ["0", "10", "20", "30"], ["0.0", "0.5", "1.0", "1.5"],
               ["0", "5", "10", "15", "20"]]
dense_panels = {"Secretory infected", "Ciliated infected"}
FC_THR, P_THR = 0.58, 1.3

for k, title in enumerate(volcano_titles):
    n = 3 + k
    r, c = divmod(k, 4)
    s = vol_sigma[k]
    xr = ptr(vol_x_range[k], s)
    xt = [float(t) for t in vol_x_ticks[k]]
    yt = [float(t) for t in vol_y_ticks[k]]
    tick_style = dict(tickfont=dict(size=4.5, color="#555", family=FONT), showline=True, linecolor="#D0D0D0",
                      linewidth=0.6, ticks="outside", ticklen=1.5, tickwidth=0.5, tickcolor="#999", **axis_common)
    L[f"xaxis{n}"] = dict(domain=[fx(VCOL[c][0]), fx(VCOL[c][1])], anchor=f"y{n}", range=xr,
                          tickvals=ptr(xt, s), ticktext=vol_x_ticks[k], **tick_style)
    L[f"yaxis{n}"] = dict(domain=[fy(VROW[r][1]), fy(VROW[r][0])], anchor=f"x{n}", range=vol_y_range[k],
                          tickvals=yt, ticktext=vol_y_ticks[k], **tick_style)
    thr_line = dict(color="#F19A9A", width=0.7, dash="dot")
    for v in (-FC_THR, FC_THR):
        xv = ptr([v], s)[0]
        shapes.append(dict(type="line", xref=f"x{n}", yref=f"y{n} domain", x0=xv, x1=xv, y0=0, y1=1, line=thr_line))
    shapes.append(dict(type="line", xref=f"x{n} domain", yref=f"y{n}", x0=0, x1=1, y0=P_THR, y1=P_THR, line=thr_line))

    cp = cyan_pts.get(title, [])
    if cp:
        fig.add_trace(go.Scatter(x=ptr([p[0] for p in cp], s), y=[p[1] for p in cp], xaxis=f"x{n}", yaxis=f"y{n}",
                                 mode="markers", marker=dict(color="#A9E4E9", size=2.4, symbol="square"),
                                 cliponaxis=False))
    rp = red_pts.get(title, [])
    if rp:
        rsize = 3.6 if title in dense_panels else 2.6
        fig.add_trace(go.Scatter(x=ptr([p[0] for p in rp], s), y=[p[1] for p in rp], xaxis=f"x{n}", yaxis=f"y{n}",
                                 mode="markers", marker=dict(color="#B80808", size=rsize, line=dict(color="#5a0000", width=0.3)),
                                 cliponaxis=False))
    gl = gene_labels.get(title, [])
    if gl:
        fig.add_trace(go.Scatter(x=ptr([g[1] for g in gl], s), y=[g[2] for g in gl], text=[g[0] for g in gl],
                                 xaxis=f"x{n}", yaxis=f"y{n}", mode="text",
                                 textfont=dict(size=4, color="#444", family=FONT), cliponaxis=False))
    vl = viral_labels.get(title, [])
    if vl:
        fig.add_trace(go.Scatter(x=ptr([g[1] for g in vl], s), y=[g[2] for g in vl], text=[g[0] for g in vl],
                                 xaxis=f"x{n}", yaxis=f"y{n}", mode="text",
                                 textfont=dict(size=4, color="#6E6EE0", family=FONT), cliponaxis=False))
    tcol = "#F5A01E" if "infected" in title else TXT
    text_ann((VCOL[c][0] + VCOL[c][1]) / 2 + 4, VTITLE_Y[r], title, 8.5, color=tcol)

text_ann(285, 8, "<b>b</b>", 17, color="#111", xanchor="left")
text_ann(299, 215, "Adjusted P value (-log<sub>10</sub>)", 9.5, textangle=-90)
text_ann(515, 423, "Expression (log<sub>2</sub> fold-change)", 9.5)

# ======================= panel c =======================
CCOL = [(227, 339), (342, 454), (457, 570), (572, 686)]
CROW = [(472, 706), (719, 953)]
CTITLE_Y = [462, 712]
label_pos = list(np.linspace(0, 29.2, len(pathways)))
for j, fac in enumerate(facets):
    n = 19 + j
    r, c = divmod(j, 4)
    box = dict(showline=True, mirror=True, linecolor="#C9C9C9", linewidth=1.3, **axis_common)
    L[f"xaxis{n}"] = dict(domain=[fx(CCOL[c][0]), fx(CCOL[c][1])], anchor=f"y{n}", range=[-9.0, 8.6],
                          tickvals=[-5, 0, 5], ticktext=(["5", "0", "5"] if fac == "Deuterosomal" else ["-5", "0", "5"]),
                          showticklabels=(r == 1), ticks="", tickfont=dict(size=7.5, color="#555"), **box)
    L[f"yaxis{n}"] = dict(domain=[fy(CROW[r][1]), fy(CROW[r][0])], anchor=f"x{n}", range=[29.5, -0.65],
                          tickvals=label_pos, ticktext=pathways, showticklabels=(c == 0), ticks="",
                          tickfont=dict(size=7.1, color=TXT), **box)
    for xv, colr, wd in ((-1.3, "#B8B8B8", 2), (0, "#5A5A5A", 1), (1.3, "#5A5A5A", 1)):
        shapes.append(dict(type="line", xref=f"x{n}", yref=f"y{n} domain", x0=xv, x1=xv, y0=0, y1=1,
                           line=dict(color=colr, width=wd), layer="below"))
    xs, ys, cs, ss = [], [], [], []
    for i, (xv, nv) in enumerate(zip(gsea_x[fac], gsea_nes[fac])):
        if xv is None:
            continue
        xs.append(xv)
        ys.append(i)
        cs.append(dot_colors[i])
        ss.append(4.6 + 1.05 * nv)
    fig.add_trace(go.Scatter(x=xs, y=ys, xaxis=f"x{n}", yaxis=f"y{n}", mode="markers",
                             marker=dict(color=cs, size=ss, line=dict(width=0)), cliponaxis=False))
    text_ann((CCOL[c][0] + CCOL[c][1]) / 2, CTITLE_Y[r], fac, 9.5)

# NES legend
L["xaxis28"] = dict(domain=[fx(690), fx(712)], range=[0, 22], visible=False, anchor="y28", fixedrange=True)
L["yaxis28"] = dict(domain=[fy(739), fy(697)], range=[4.5, -0.5], visible=False, anchor="x28", fixedrange=True)
fig.add_trace(go.Scatter(x=[7] * len(nes_legend), y=list(range(len(nes_legend))), xaxis="x28", yaxis="y28",
                         mode="markers+text", text=[str(v) for v in nes_legend], textposition="middle right",
                         textfont=dict(size=6.5, color=TXT, family=FONT),
                         marker=dict(color="black", size=[4.6 + 1.05 * v for v in nes_legend]), cliponaxis=False))
text_ann(683, 689, "NES", 9.5, xanchor="left")

text_ann(0, 452, "<b>c</b>", 17, color="#111", xanchor="left")
text_ann(8, 464, "Pathways regulated in infected cells", 10.5, color="#2270B5", xanchor="left")
text_ann(453, 980, "Log<sub>10</sub> adjusted P value", 9.5)

L["shapes"] = shapes
L["annotations"] = ann
fig.update_layout(**L)
fig.write_html("out.html", config={"displayModeBar": False, "staticPlot": True},
               post_script="document.body.style.margin='0';document.body.style.overflow='hidden';")
